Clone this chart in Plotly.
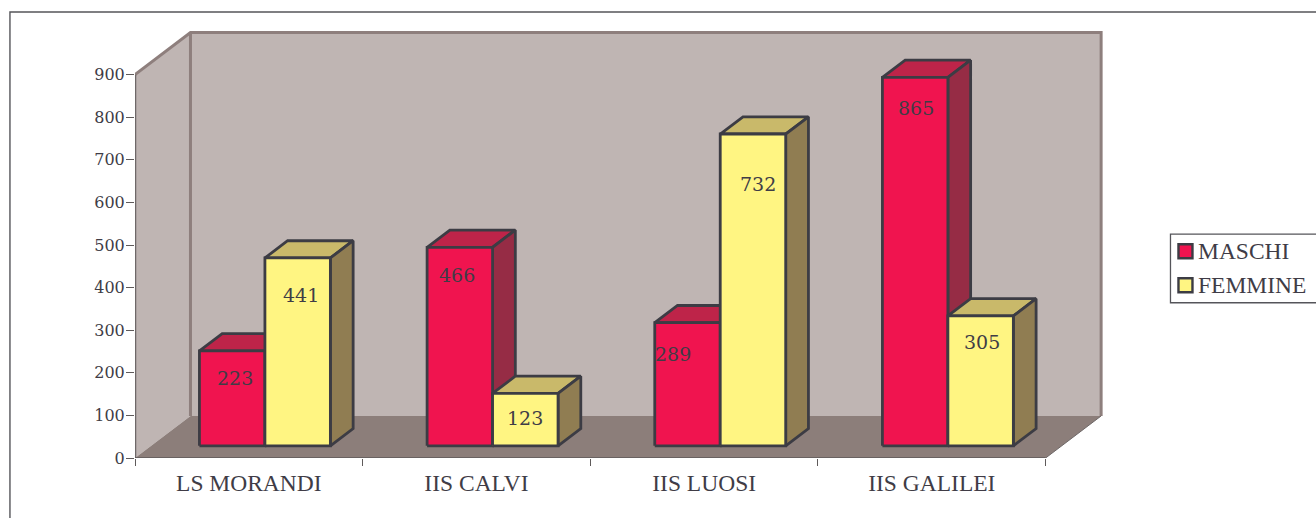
import plotly.graph_objects as go

# ---- data ----
CATEGORIES = ["LS MORANDI", "IIS CALVI", "IIS LUOSI", "IIS GALILEI"]
MASCHI = [223, 466, 289, 865]
FEMMINE = [441, 123, 732, 305]
Y_TICKS = [0, 100, 200, 300, 400, 500, 600, 700, 800, 900]

# ---- styling / geometry ----
W, H = 1316, 518
L, R, T, B = 134.6, 200, 20, 60.4
PX_PER_CAT = 227.75
PX_PER_VAL = 383 / 900
WALL_DX = 55.5 / PX_PER_CAT        # oblique depth offset, category units
WALL_DY = 42 / PX_PER_VAL          # oblique depth offset, value units
BAR_W = 65.5 / PX_PER_CAT
D_FRONT, D_BACK = 0.29, 0.70
Y_TOP = 900
INK = "#3c3c44"
TEXT = "#403c46"
WALL = "#bfb5b3"
WALL_EDGE = "#8e7f7d"
FLOOR = "#8c7e7a"
RED = ("#f0144f", "#be2449", "#962c45")
YEL = ("#fff582", "#c9b96a", "#907d52")
NUM_FONT = "DejaVu Serif"
TXT_FONT = "Liberation Serif"
# hand-placed label offsets in the reference (dx, dy in px from bar top centre)
LABEL_OFF_M = [(3, 27), (-3, 28), (-14, 31), (1, 31)]
LABEL_OFF_F = [(3, 37), (0, 25), (5, 50), (1, 26)]

fig = go.Figure()


def P(x, v, d):
    return x + d * WALL_DX, v + d * WALL_DY


def poly(pts, fill, line=None, lw=0, name=""):
    xs, ys = zip(*(pts + pts[:1]))
    fig.add_trace(go.Scatter(
        x=list(xs), y=list(ys), mode="lines", fill="toself", fillcolor=fill,
        line=dict(color=line or fill, width=lw if line else 0),
        name=name, showlegend=False, hoverinfo="skip", cliponaxis=False))


def path(xs, ys, color, lw):
    fig.add_trace(go.Scatter(x=xs, y=ys, mode="lines", line=dict(color=color, width=lw),
                             showlegend=False, hoverinfo="skip", cliponaxis=False))


n = len(CATEGORIES)
# walls and floor
poly([P(0, 0, 0), P(0, 0, 1), P(0, Y_TOP, 1), P(0, Y_TOP, 0)], WALL)
poly([P(0, 0, 1), P(n, 0, 1), P(n, Y_TOP, 1), P(0, Y_TOP, 1)], WALL)
poly([P(0, 0, 0), P(n, 0, 0), P(n, 0, 1), P(0, 0, 1)], FLOOR)
a, b, c, e = P(0, Y_TOP, 0), P(0, Y_TOP, 1), P(n, Y_TOP, 1), P(n, 0, 1)
f = P(0, 0, 1)
path([a[0], b[0], c[0], e[0]], [a[1], b[1], c[1], e[1]], WALL_EDGE, 3)
path([f[0], b[0]], [f[1], b[1]], WALL_EDGE, 3)
# axis lines
path([0, 0], [0, Y_TOP], "#6e6868", 2.5)
path([0, n], [0, 0], "#5e5a5a", 1.5)
g = P(n, 0, 1)
path([n, g[0]], [0, g[1]], "#6e6868", 1)


def bar(x0, v, cols, name):
    x1 = x0 + BAR_W
    poly([P(x0, v, D_FRONT), P(x1, v, D_FRONT), P(x1, v, D_BACK), P(x0, v, D_BACK)],
         cols[1], INK, 2.8, name + " top")
    poly([P(x1, 0, D_FRONT), P(x1, 0, D_BACK), P(x1, v, D_BACK), P(x1, v, D_FRONT)],
         cols[2], INK, 2.8, name + " side")
    poly([P(x0, 0, D_FRONT), P(x1, 0, D_FRONT), P(x1, v, D_FRONT), P(x0, v, D_FRONT)],
         cols[0], INK, 2.8, name)


annos = []
for i, cat in enumerate(CATEGORIES):
    x0 = i + 0.5 - BAR_W
    for xs, val, cols, nm, off in (
        (x0, MASCHI[i], RED, "MASCHI", LABEL_OFF_M[i]),
        (x0 + BAR_W, FEMMINE[i], YEL, "FEMMINE", LABEL_OFF_F[i]),
    ):
        bar(xs, val, cols, f"{nm} {cat}")
        cx, cy = P(xs + BAR_W / 2, val, D_FRONT)
        annos.append(dict(x=cx, y=cy, xref="x", yref="y", text=str(val), showarrow=False,
                          xshift=off[0], yshift=-off[1],
                          font=dict(family=NUM_FONT, size=19, color=TEXT)))


def sx(x): return (x - L) / (W - L - R)
def sy(y): return (H - B - y) / (H - T - B)


# legend
shapes = []
LEG = [("MASCHI", RED[0], 251), ("FEMMINE", YEL[0], 285)]
for label, col, yc in LEG:
    shapes.append(dict(type="rect", xref="paper", yref="paper", line=dict(color=INK, width=2.4), fillcolor=col,
                       x0=sx(1178.5), x1=sx(1192.5), y0=sy(yc + 7), y1=sy(yc - 7)))
    annos.append(dict(xref="paper", yref="paper", x=sx(1196), y=sy(yc),
                      text=label, showarrow=False, xanchor="left", yanchor="middle",
                      font=dict(family=TXT_FONT, size=23.5, color=TEXT)))
# legend box and outer frame
shapes.append(dict(type="rect", xref="paper", yref="paper", x0=sx(1170.5), x1=sx(1330), y0=sy(302.5), y1=sy(234),
                   line=dict(color="#55555a", width=1.3), fillcolor="rgba(0,0,0,0)"))
shapes.append(dict(type="path", xref="paper", yref="paper",
                   path=f"M {sx(9.5)} {sy(530)} L {sx(9.5)} {sy(12)} L {sx(1330)} {sy(12)}",
                   line=dict(color="#55555a", width=1.4)))

fig.update_layout(
    width=W, height=H, margin=dict(l=L, r=R, t=T, b=B, pad=0, autoexpand=False),
    paper_bgcolor="white", plot_bgcolor="white", showlegend=False,
    shapes=shapes, annotations=annos,
    xaxis=dict(range=[0, (W - L - R) / PX_PER_CAT], showgrid=False, zeroline=False, showline=False,
               tickmode="array", tickvals=[i + 0.5 for i in range(n)], ticktext=CATEGORIES,
               ticks="", ticklabelstandoff=8,
               tickfont=dict(family=TXT_FONT, size=23.5, color=TEXT),
               minor=dict(tickmode="array", tickvals=list(range(n + 1)), ticks="outside",
                          ticklen=7, tickwidth=1.2, tickcolor="#5e5a5a", showgrid=False)),
    yaxis=dict(range=[0, (H - T - B) / PX_PER_VAL], showgrid=False, zeroline=False, showline=False,
               tickmode="array", tickvals=Y_TICKS, ticks="outside", ticklen=8, tickwidth=1.4,
               ticklabelstandoff=-2,
               tickcolor="#5e5a5a", tickfont=dict(family=NUM_FONT, size=16, color=TEXT)),
)
fig.write_html("out.html", config=dict(displayModeBar=False),
               post_script="document.body.style.margin='0';document.documentElement.style.overflow='hidden';")
